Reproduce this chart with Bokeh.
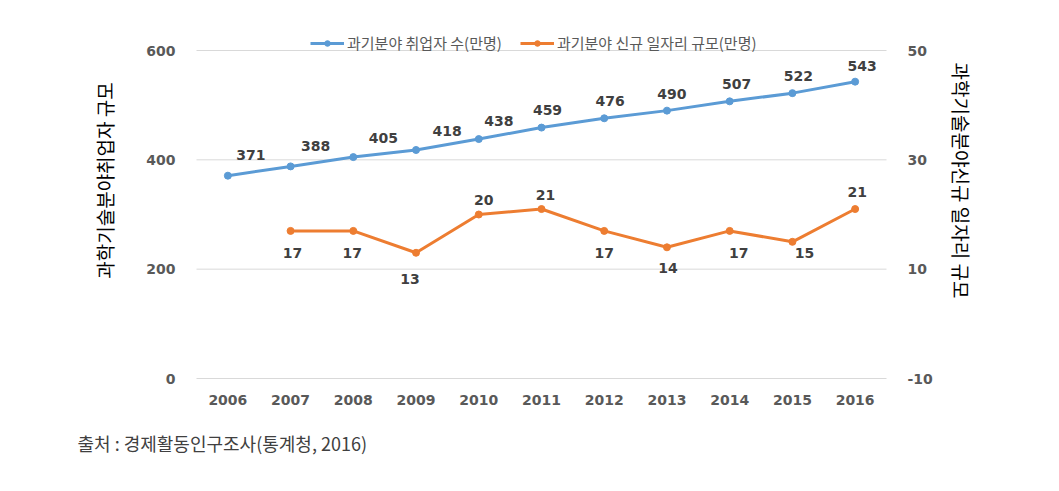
import math
from bokeh.plotting import figure
from bokeh.models import (ColumnDataSource, Range1d, LinearAxis, FixedTicker,
                          Legend, LegendItem, Label)
from bokeh.core.properties import value
from bokeh.embed import file_html
from bokeh.resources import INLINE

# ---- data ----
years = ["2006", "2007", "2008", "2009", "2010", "2011", "2012", "2013", "2014", "2015", "2016"]
employed = [371, 388, 405, 418, 438, 459, 476, 490, 507, 522, 543]
new_job_years = ["2007", "2008", "2009", "2010", "2011", "2012", "2013", "2014", "2015", "2016"]
new_jobs = [17, 17, 13, 20, 21, 17, 14, 17, 15, 21]
left_ticks = [0, 200, 400, 600]
right_ticks = [-10, 10, 30, 50]
series_names = ["과기분야 취업자 수(만명)", "과기분야 신규 일자리 규모(만명)"]
left_title = "과학기술분야취업자 규모"
right_title = "과학기술분야신규 일자리 규모"
source_note = "출처 : 경제활동인구조사(통계청, 2016)"

# ---- label nudges (style, pixels) ----
blue_dx = [23, 25, 30, 31, 20, 6, 6, 5, 7, 6, 7]
blue_dy = [-21, -20, -19, -19, -18, -18, -17, -17, -17, -17, -16]
orange_dx = [2, -1, -6, 5, 4, 0, 1, 9, 12, 2]
orange_dy = [22, 22, 26, -15, -14, 22, 21, 22, 11, -17]

BLUE = "#5B9BD5"
ORANGE = "#ED7D31"
NUM_FONT = "DejaVu Sans"
KR_FONT = "Noto Sans CJK KR"

# ---- geometry: plot area inside the canvas (pixels) ----
W, H = 1059, 491
PL, PR, PT, PB = 196, 886, 50, 378
n = len(years)
ppx = (PR - PL) / n                      # pixels per category
x0 = -0.5 - PL / ppx
x1 = -0.5 + (W - PL) / ppx
L_MIN, L_MAX = left_ticks[0], left_ticks[-1]
R_MIN, R_MAX = right_ticks[0], right_ticks[-1]
lpy = (L_MAX - L_MIN) / (PB - PT)
rpy = (R_MAX - R_MIN) / (PB - PT)
y0 = L_MIN - (H - PB) * lpy
y1 = L_MIN + PB * lpy
ry0 = R_MIN - (H - PB) * rpy
ry1 = R_MIN + PB * rpy

def cx(px):
    return -0.5 + (px - PL) / ppx

def cy(py):
    return L_MIN + (PB - py) * lpy

xi = {y: i for i, y in enumerate(years)}

p = figure(width=W, height=H, output_backend="svg", toolbar_location=None,
           x_range=Range1d(x0, x1), y_range=Range1d(y0, y1),
           min_border=0, background_fill_color="white", border_fill_color="white")
p.outline_line_color = None
p.extra_y_ranges = {"right": Range1d(ry0, ry1)}
p.xaxis.visible = False
p.yaxis.visible = False
p.grid.visible = False

def style_axis(ax, standoff):
    ax.axis_line_color = None
    ax.major_tick_line_color = None
    ax.minor_tick_line_color = None
    ax.major_label_text_font = NUM_FONT
    ax.major_label_text_font_style = "bold"
    ax.major_label_text_font_size = "14px"
    ax.major_label_text_color = "#595959"
    ax.major_label_standoff = standoff

xa = LinearAxis(ticker=FixedTicker(ticks=list(range(n))), fixed_location=L_MIN,
                major_label_overrides={i: y for i, y in enumerate(years)})
style_axis(xa, 10)
p.add_layout(xa, "below")
ya = LinearAxis(ticker=FixedTicker(ticks=left_ticks), fixed_location=-0.5,
                major_label_overrides={t: str(t) for t in left_ticks})
style_axis(ya, 15)
p.add_layout(ya, "left")
ra = LinearAxis(ticker=FixedTicker(ticks=right_ticks), fixed_location=n - 0.5,
                y_range_name="right",
                major_label_overrides={t: str(t) for t in right_ticks})
style_axis(ra, 15)
p.add_layout(ra, "right")

# gridlines across the plot area only
p.segment(x0=[-0.5] * len(left_ticks), x1=[n - 0.5] * len(left_ticks),
          y0=left_ticks, y1=left_ticks, line_color="#D9D9D9", line_width=1)

# series
src_b = ColumnDataSource(dict(x=[xi[y] for y in years], y=employed,
                              t=[str(v) for v in employed], dx=blue_dx, dy=blue_dy))
src_o = ColumnDataSource(dict(x=[xi[y] for y in new_job_years], y=new_jobs,
                              t=[str(v) for v in new_jobs], dx=orange_dx, dy=orange_dy))

lb = p.line("x", "y", source=src_b, line_color=BLUE, line_width=3)
sb = p.scatter("x", "y", source=src_b, size=7, fill_color=BLUE, line_color=BLUE)
lo = p.line("x", "y", source=src_o, line_color=ORANGE, line_width=3, y_range_name="right")
so = p.scatter("x", "y", source=src_o, size=7, fill_color=ORANGE, line_color=ORANGE,
               y_range_name="right")

for src, rn in [(src_b, "default"), (src_o, "right")]:
    p.text("x", "y", text="t", source=src, x_offset="dx", y_offset="dy",
           text_align="center", text_baseline="middle", text_font=value(NUM_FONT),
           text_font_style="bold", text_font_size="14px", text_color="#404040",
           y_range_name=rn)

legend = Legend(items=[LegendItem(label=series_names[0], renderers=[lb, sb]),
                       LegendItem(label=series_names[1], renderers=[lo, so])],
                orientation="horizontal", location=(310, H - 46 - 7),
                background_fill_alpha=0, border_line_color=None,
                label_text_font=KR_FONT, label_text_font_size="15px",
                label_text_color="#595959", glyph_width=34, glyph_height=14,
                label_height=14, label_standoff=3, spacing=18, padding=0, margin=0)
p.add_layout(legend, "center")

# axis titles & source note
p.add_layout(Label(x=cx(104), y=cy(180), text=left_title, angle=math.pi / 2,
                   text_align="center", text_baseline="middle", text_font=KR_FONT,
                   text_font_size="19px", text_color="#000000"))
p.add_layout(Label(x=cx(961), y=cy(180), text=right_title, angle=-math.pi / 2,
                   text_align="center", text_baseline="middle", text_font=KR_FONT,
                   text_font_size="19px", text_color="#000000"))
p.add_layout(Label(x=cx(77), y=cy(442), text=source_note, text_align="left",
                   text_baseline="middle", text_font=KR_FONT, text_font_size="18px",
                   text_color="#404040"))

open("out.html", "w").write(file_html(p, INLINE))
